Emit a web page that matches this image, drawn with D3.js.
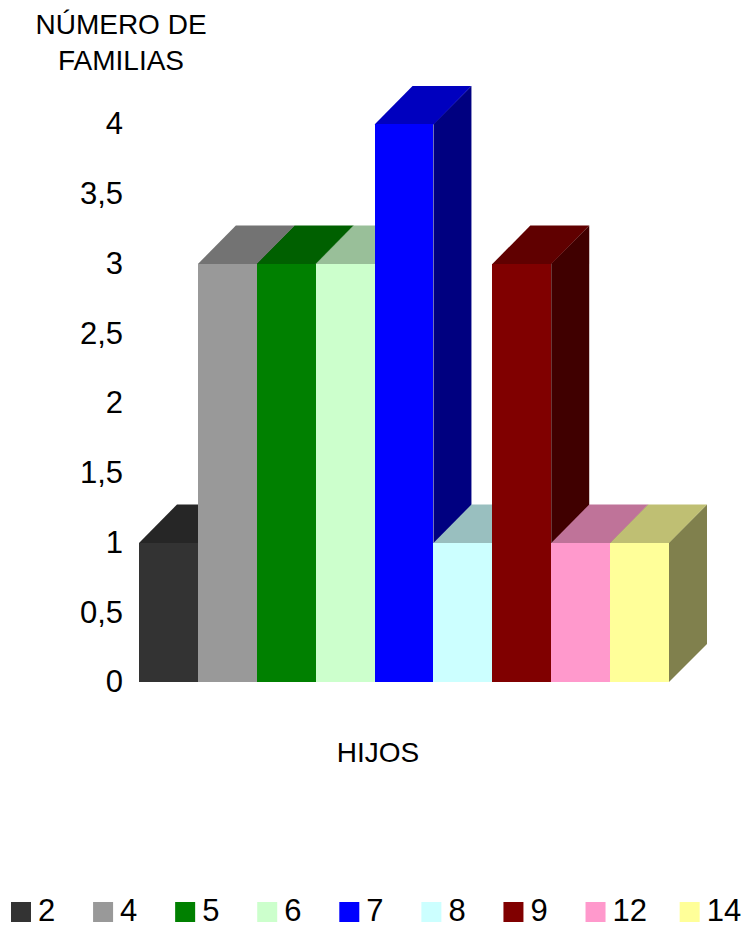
<!DOCTYPE html>
<html>
<head>
<meta charset="utf-8">
<script src="https://cdn.jsdelivr.net/npm/d3@7"></script>
<style>
  body { margin: 0; background: #fff; }
  text { font-family: "Liberation Sans", Arial, sans-serif; fill: #000; }
</style>
</head>
<body>
<div id="chart"></div>
<script>
// number of children per family vs number of families
var categories = ["2", "4", "5", "6", "7", "8", "9", "12", "14"];
var values = [1, 3, 3, 3, 4, 1, 3, 1, 1];
var colors = ["#333333", "#999999", "#008000", "#CCFFCC", "#0000FF", "#CCFFFF", "#800000", "#FF99CC", "#FFFF99"];
var yTicks = [0, 0.5, 1, 1.5, 2, 2.5, 3, 3.5, 4];

var width = 746,
    height = 928;

var svg = d3.select("#chart")
  .append("svg")
  .attr("width", width)
  .attr("height", height);

var xScale = d3.scaleBand()
  .domain(categories)
  .range([139, 669])
  .padding(0);

var yScale = d3.scaleLinear()
  .domain([0, 4])
  .range([682, 124]);

var depth = 38;

function shade(c, k) {
  var r = d3.rgb(c);
  return d3.rgb(r.r * k, r.g * k, r.b * k).formatHex();
}

// y axis, labels only
var yAxis = d3.axisLeft(yScale)
  .tickValues(yTicks)
  .tickSize(0)
  .tickPadding(0)
  .tickFormat(function (d) { return String(d).replace(".", ","); });

var gy = svg.append("g")
  .attr("transform", "translate(123,0)")
  .call(yAxis);
gy.select(".domain").remove();
gy.selectAll("text")
  .style("font-family", "Liberation Sans, Arial, sans-serif")
  .style("font-size", "31px")
  .attr("fill", "#000");

// bars, left to right so later bars cover earlier sides
var data = categories.map(function (c, i) {
  return { cat: c, value: values[i], color: colors[i] };
});

var bars = svg.selectAll(".bar")
  .data(data)
  .enter().append("g")
  .attr("class", "bar");

bars.append("path")
  .attr("fill", function (d) { return shade(d.color, 0.5); })
  .attr("d", function (d) {
    var x1 = xScale(d.cat) + xScale.bandwidth(), y0 = yScale(0), y1 = yScale(d.value);
    return "M" + x1 + "," + y0 + "L" + (x1 + depth) + "," + (y0 - depth) +
      "L" + (x1 + depth) + "," + (y1 - depth) + "L" + x1 + "," + y1 + "Z";
  });

bars.append("path")
  .attr("fill", function (d) { return shade(d.color, 0.75); })
  .attr("d", function (d) {
    var x0 = xScale(d.cat), x1 = x0 + xScale.bandwidth(), y1 = yScale(d.value);
    return "M" + x0 + "," + (y1 + 0.5) + "L" + (x0 + depth) + "," + (y1 - depth) +
      "L" + (x1 + depth) + "," + (y1 - depth) + "L" + x1 + "," + (y1 + 0.5) + "Z";
  });

bars.append("rect")
  .attr("x", function (d) { return xScale(d.cat); })
  .attr("y", function (d) { return yScale(d.value); })
  .attr("width", xScale.bandwidth())
  .attr("height", function (d) { return yScale(0) - yScale(d.value); })
  .attr("fill", function (d) { return d.color; })
  .attr("shape-rendering", "crispEdges");

// titles
var yTitle = svg.append("text")
  .attr("text-anchor", "middle")
  .style("font-size", "28px");
yTitle.append("tspan").attr("x", 121).attr("y", 34).text("NÚMERO DE");
yTitle.append("tspan").attr("x", 121).attr("y", 70).text("FAMILIAS");

svg.append("text")
  .attr("x", 378)
  .attr("y", 762)
  .attr("text-anchor", "middle")
  .style("font-size", "28px")
  .text("HIJOS");

// legend
var lx = 11;
var legend = svg.append("g").attr("class", "legend");
data.forEach(function (d) {
  legend.append("rect")
    .attr("x", lx)
    .attr("y", 902)
    .attr("width", 20)
    .attr("height", 20)
    .attr("fill", d.color);
  var t = legend.append("text")
    .attr("x", lx + 27)
    .attr("y", 921)
    .style("font-size", "31px")
    .text(d.cat);
  lx += 70 + 0.7 * t.node().getComputedTextLength();
});
</script>
</body>
</html>
